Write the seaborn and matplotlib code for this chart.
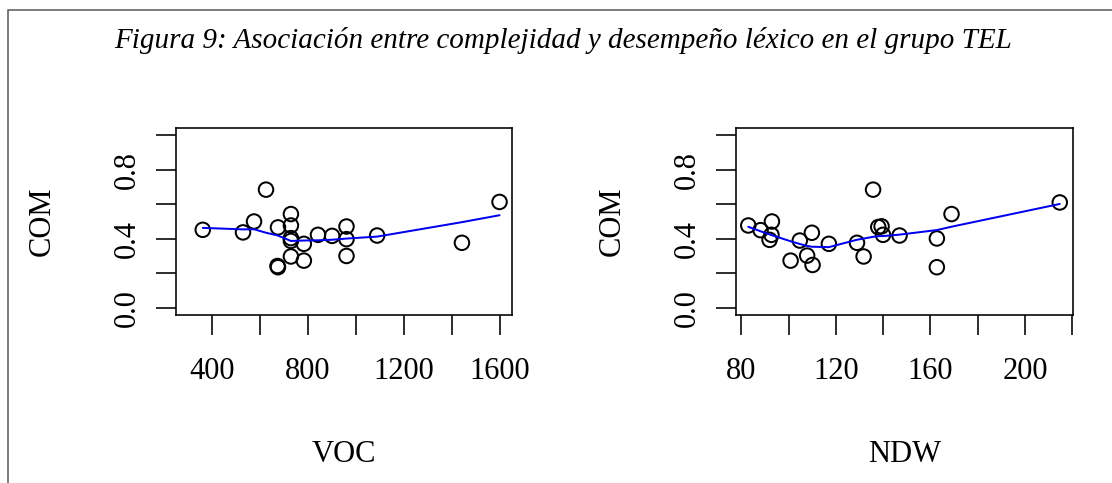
import numpy as np
import pandas as pd
import matplotlib
matplotlib.use("Agg")
import matplotlib.pyplot as plt
import matplotlib.patches as mpatches
import seaborn as sns

# ---- data ----
voc = [361, 529, 575, 625, 675, 673, 675, 729, 729, 729, 729, 729, 783, 783,
       842, 901, 961, 961, 961, 1089, 1443, 1600]
com_voc = [0.452, 0.437, 0.500, 0.684, 0.466, 0.243, 0.236, 0.543, 0.477, 0.404,
           0.388, 0.298, 0.371, 0.274, 0.423, 0.417, 0.471, 0.398, 0.301, 0.419,
           0.377, 0.613]

ndw = [82.9, 88.1, 92.9, 92.7, 91.9, 100.8, 104.7, 109.8, 107.8, 110.1, 117.0,
       128.9, 131.7, 135.7, 137.9, 139.3, 139.9, 146.9, 162.7, 162.7, 168.9, 214.7]
com_ndw = [0.477, 0.450, 0.500, 0.423, 0.394, 0.274, 0.390, 0.435, 0.303, 0.249,
           0.371, 0.377, 0.298, 0.684, 0.468, 0.472, 0.423, 0.419, 0.402, 0.236,
           0.543, 0.610]

title = "Figura 9: Asociación entre complejidad y desempeño léxico en el grupo TEL"
y_ticks = [0.0, 0.2, 0.4, 0.6, 0.8, 1.0]
y_ticklabels = ["0.0", "", "0.4", "", "0.8", ""]
voc_ticks = [400, 600, 800, 1000, 1200, 1400, 1600]
voc_ticklabels = ["400", "", "800", "", "1200", "", "1600"]
ndw_ticks = [80, 100, 120, 140, 160, 180, 200, 220]
ndw_ticklabels = ["80", "", "120", "", "160", "", "200", ""]


def lowess(x, y, f=2 / 3, iters=3):
    """R-style lowess smoother."""
    x = np.asarray(x, float)
    y = np.asarray(y, float)
    o = np.argsort(x, kind="mergesort")
    x, y = x[o], y[o]
    n = len(x)
    ns = max(2, min(n, int(f * n + 1e-7)))
    rng = x[-1] - x[0]
    rw = np.ones(n)
    ys = np.zeros(n)
    for it in range(iters + 1):
        nleft, nright = 0, ns - 1
        for i in range(n):
            if i > 0 and x[i] == x[i - 1]:
                ys[i] = ys[i - 1]
                continue
            while nright < n - 1:
                d1 = x[i] - x[nleft]
                d2 = x[nright + 1] - x[i]
                if d1 > d2:
                    nleft += 1
                    nright += 1
                else:
                    break
            h = max(x[i] - x[nleft], x[nright] - x[i])
            h9, h1 = 0.999 * h, 0.001 * h
            w = np.zeros(n)
            j = nleft
            while j < n:
                r = abs(x[j] - x[i])
                if r <= h9:
                    if r <= h1:
                        w[j] = 1.0
                    else:
                        w[j] = (1 - (r / h) ** 3) ** 3
                    if it > 0:
                        w[j] *= rw[j]
                elif x[j] > x[i]:
                    break
                j += 1
            s = w.sum()
            if s <= 0:
                ys[i] = y[i]
                continue
            w = w / s
            if h > 0:
                a = np.sum(w * x)
                b = x[i] - a
                c = np.sum(w * (x - a) ** 2)
                if np.sqrt(c) > 0.001 * rng:
                    b = b / c
                    w = w * (b * (x - a) + 1)
            ys[i] = np.sum(w * y)
        if it == iters:
            break
        res = y - ys
        ares = np.abs(res)
        cmad = 6 * np.median(ares)
        if cmad < 1e-7 * np.mean(ares):
            break
        c9, c1 = 0.999 * cmad, 0.001 * cmad
        rw = np.where(ares <= c1, 1.0,
                      np.where(ares <= c9, (1 - (ares / cmad) ** 2) ** 2, 0.0))
    return x, ys


sns.set_style("white")
plt.rcParams["font.family"] = ["Liberation Serif", "DejaVu Serif"]
for k in ["text.color", "axes.labelcolor", "xtick.color", "ytick.color",
          "axes.edgecolor"]:
    plt.rcParams[k] = "black"

W, H = 1112, 483
fig = plt.figure(figsize=(W / 100, H / 100), dpi=100)

ax_bottom = 1 - 315 / H
ax_h = (315 - 128) / H
axes_specs = [
    (175.7, 512.0, 42, voc, com_voc, (248, 1652), voc_ticks, voc_ticklabels, "VOC"),
    (736.0, 1073.0, 612, ndw, com_ndw, (77.7, 220.3), ndw_ticks, ndw_ticklabels, "NDW"),
]

PX = 0.72  # points per pixel at dpi 100
for (x0, x1, ylab_x, xs, ys, xlim, xt, xtl, xlab) in axes_specs:
    ax = fig.add_axes([x0 / W, ax_bottom, (x1 - x0) / W, ax_h])
    df = pd.DataFrame({"x": xs, "y": ys})
    sns.scatterplot(data=df, x="x", y="y", ax=ax, marker="o", s=(14.5 * PX) ** 2,
                    facecolor="none", edgecolor="black", linewidth=2.0 * PX,
                    zorder=2)
    sx, sy = lowess(xs, ys)
    sm = pd.DataFrame({"x": sx, "y": sy})
    sns.lineplot(data=sm, x="x", y="y", ax=ax, color="#0000ee", linewidth=2.0 * PX,
                 estimator=None, sort=True, zorder=3)
    ax.set_xlim(*xlim)
    ax.set_ylim(-0.04, 1.04)
    ax.set_xticks(xt)
    ax.set_xticklabels(xtl, fontsize=22)
    ax.set_yticks(y_ticks)
    ax.set_yticklabels(y_ticklabels, fontsize=22, rotation=90, va="center")
    ax.tick_params(axis="both", direction="out", length=20 * PX, width=1.6 * PX,
                   color="black", bottom=True, left=True)
    ax.tick_params(axis="x", pad=22 * PX)
    ax.tick_params(axis="y", pad=14 * PX)
    for sp in ax.spines.values():
        sp.set_visible(True)
        sp.set_color("black")
        sp.set_linewidth(1.6 * PX)
    ax.set_xlabel(xlab, fontsize=22, va="center")
    ax.set_ylabel("COM", fontsize=22, va="center")
    ax.xaxis.set_label_coords(0.5, -(455 - 315) / 187)
    ax.yaxis.set_label_coords(-(x0 - ylab_x) / (x1 - x0), 0.5)

fig.text(563 / W, 1 - 40 / H, title, fontsize=21, style="italic",
         ha="center", va="center")

frame = mpatches.Rectangle((8 / W, -0.2), 2.0, 1.2 - 10 / H,
                           transform=fig.transFigure, fill=False,
                           edgecolor="#555555", linewidth=1.5 * PX)
fig.add_artist(frame)

fig.savefig("out.png", dpi=100)
